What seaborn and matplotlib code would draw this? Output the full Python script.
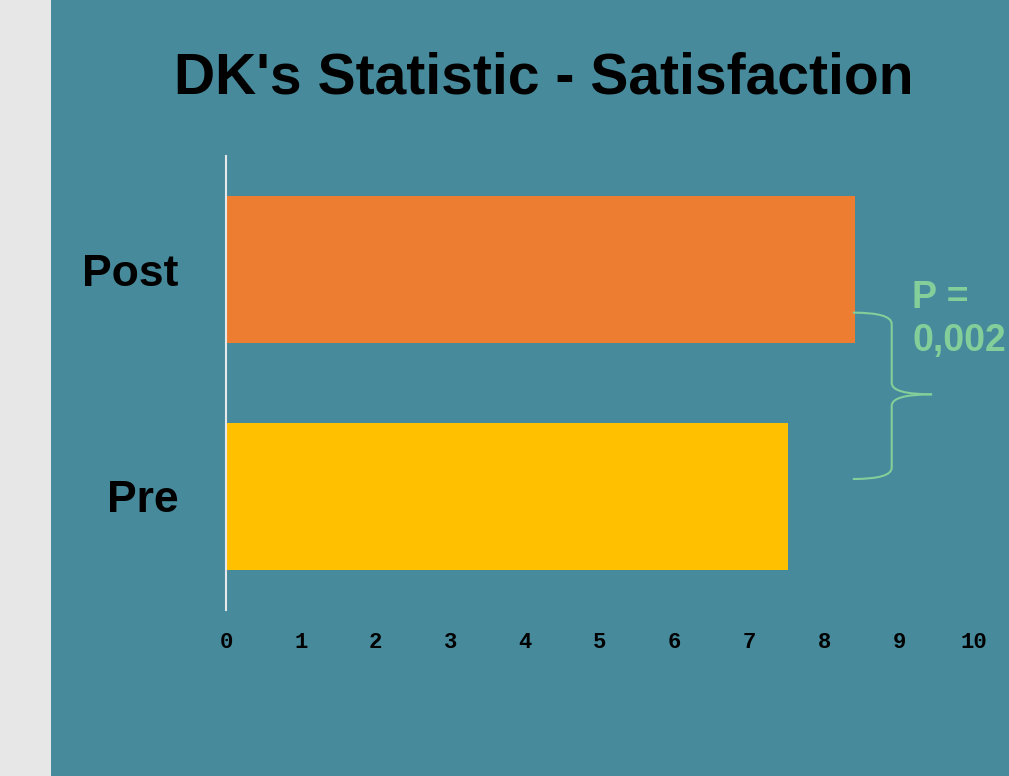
import pandas as pd
import seaborn as sns
import matplotlib.pyplot as plt
from matplotlib.path import Path
from matplotlib.patches import PathPatch, Rectangle

# chart data
categories = ["Post", "Pre"]
scores = [8.41, 7.51]
bar_colors = ["#ED7D31", "#FFC000"]
x_ticks = list(range(0, 11))
p_label = "P =\n0,002"

teal = "#468A9C"
brace_color = "#84CE9A"
df = pd.DataFrame({"phase": categories, "score": scores})

fig = plt.figure(figsize=(10.09, 7.76), dpi=100, facecolor="#E7E7E7")
# teal slide area, leaving the grey strip on the left
fig.patches.append(Rectangle((51 / 1009, 0), 1 - 51 / 1009, 1, transform=fig.transFigure,
                             facecolor=teal, edgecolor="none", zorder=-1))

ax = fig.add_axes([226 / 1009, 1 - 610 / 776, (974 - 226) / 1009, (610 - 156) / 776])
ax.set_facecolor(teal)
sns.barplot(data=df, x="score", y="phase", hue="phase", palette=bar_colors,
            orient="h", width=0.645, legend=False, ax=ax, saturation=1)

ax.set_xlim(0, 10)
ax.set_ylim(1.5, -0.5)
ax.set_xticks(x_ticks)
ax.set_xticklabels([str(t) for t in x_ticks], fontsize=16, fontweight="bold",
                   family="Liberation Mono")
ax.tick_params(axis="x", length=0, pad=16)
ax.tick_params(axis="y", length=0, pad=34)
for lbl in ax.get_yticklabels():
    lbl.set_fontsize(32)
    lbl.set_fontweight("bold")
    lbl.set_family("Liberation Sans")
ax.set_xlabel("")
ax.set_ylabel("")
for side in ["top", "right", "bottom"]:
    ax.spines[side].set_visible(False)
ax.spines["left"].set_color("#E8E8E8")
ax.spines["left"].set_linewidth(1.5)

# curly brace joining the two bars
xs, xm, xt = 8.38, 8.90, 9.44
y0, ym, y1 = 0.19, 0.55, 0.923
codes = [Path.MOVETO, Path.CURVE3, Path.CURVE3, Path.LINETO, Path.CURVE3, Path.CURVE3]
upper = Path([(xs, y0), (xm, y0), (xm, y0 + 0.05), (xm, ym - 0.05), (xm, ym), (xt, ym)], codes)
lower = Path([(xt, ym), (xm, ym), (xm, ym + 0.05), (xm, y1 - 0.05), (xm, y1), (xs, y1)], codes)
for p in (upper, lower):
    ax.add_patch(PathPatch(p, facecolor="none", edgecolor=brace_color, lw=1.5, clip_on=False))

fig.text(912 / 1009, 1 - 280 / 776, p_label, color=brace_color, fontsize=27,
         fontweight="bold", family="Liberation Sans", va="top", ha="left", linespacing=1.25)

fig.text(544 / 1009, 1 - 78 / 776, "DK's Statistic - Satisfaction", fontsize=41,
         fontweight="bold", family="Liberation Sans", ha="center", va="center")

fig.savefig("out.png", dpi=100, facecolor=fig.get_facecolor())
